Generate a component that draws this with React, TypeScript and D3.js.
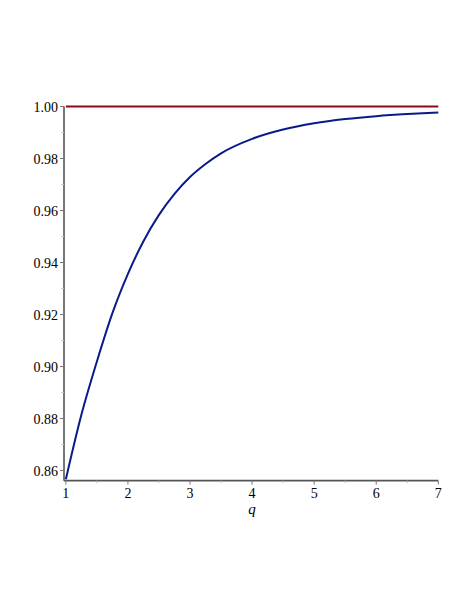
import React from "react";
import * as d3 from "d3";

const qValues = [1, 1.25, 1.5, 1.75, 2, 2.25, 2.5, 2.75, 3, 3.25, 3.5, 4, 4.5, 5, 5.5, 6, 6.5, 7];
const curveValues = [0.8566, 0.8814, 0.9019, 0.9205, 0.9356, 0.9482, 0.9583, 0.9664, 0.9729, 0.9779, 0.982, 0.98755, 0.99114, 0.99354, 0.99516, 0.99629, 0.99708, 0.99765];
const limitQ = [1, 7];
const limitValues = [1, 1];
const xTicks = [1, 2, 3, 4, 5, 6, 7];
const xMinorTicks = [1.5, 2.5, 3.5, 4.5, 5.5, 6.5];
const yTicks = [0.86, 0.88, 0.9, 0.92, 0.94, 0.96, 0.98, 1.0];
const yMinorTicks = [0.87, 0.89, 0.91, 0.93, 0.95, 0.97, 0.99];
const xLabel = "q";

export default function App() {
  const W = 476, H = 616;
  const x = d3.scaleLinear().domain([0.97, 7]).range([64, 438.3]);
  const y = d3.scaleLinear().domain([0.86, 1.0]).range([470.5, 106.5]);
  const y0 = y(0.8561);
  const yTop = y(1.0);
  const line = d3.line<[number, number]>().x(d => x(d[0])).y(d => y(d[1])).curve(d3.curveMonotoneX);
  const curve = line(qValues.map((q, i) => [q, curveValues[i]] as [number, number])) || "";
  const limit = line(limitQ.map((q, i) => [q, limitValues[i]] as [number, number])) || "";
  const axisColor = "#555";
  const font = "Liberation Serif, Times New Roman, DejaVu Serif, serif";
  return (
    <svg width={W} height={H} style={{ position: "absolute", left: 0, top: 0, background: "#fff" }}>
      <g>
        <line x1={64} x2={64} y1={yTop} y2={y0} stroke={axisColor} strokeWidth={1.6} />
        {yTicks.map(t => (
          <g key={t}>
            <line x1={60} x2={64} y1={y(t)} y2={y(t)} stroke="#777" strokeWidth={1} />
            <text x={58} y={y(t) + 5} textAnchor="end" style={{ fontFamily: font, fontSize: 14 }} fill="#000">
              {t.toFixed(2)}
            </text>
          </g>
        ))}
        {yMinorTicks.map(t => (
          <line key={t} x1={61.5} x2={64} y1={y(t)} y2={y(t)} stroke="#bbb" strokeWidth={1} />
        ))}
        <line x1={64} x2={x(7)} y1={y0} y2={y0} stroke={axisColor} strokeWidth={1.6} />
        {xTicks.map(t => (
          <g key={t}>
            <line x1={x(t)} x2={x(t)} y1={y0} y2={y0 + 4} stroke="#777" strokeWidth={1} />
            <text x={x(t)} y={498} textAnchor="middle" style={{ fontFamily: font, fontSize: 14 }} fill="#000">
              {t}
            </text>
          </g>
        ))}
        {xMinorTicks.map(t => (
          <line key={t} x1={x(t)} x2={x(t)} y1={y0} y2={y0 + 2.5} stroke="#bbb" strokeWidth={1} />
        ))}
        <text x={x(4)} y={514} textAnchor="middle" style={{ fontFamily: font, fontSize: 15, fontStyle: "italic" }} fill="#000">
          {xLabel}
        </text>
        <path d={limit} fill="none" stroke="#8b0a1a" strokeWidth={2} />
        <path d={curve} fill="none" stroke="#0a1a8a" strokeWidth={2} />
      </g>
    </svg>
  );
}
